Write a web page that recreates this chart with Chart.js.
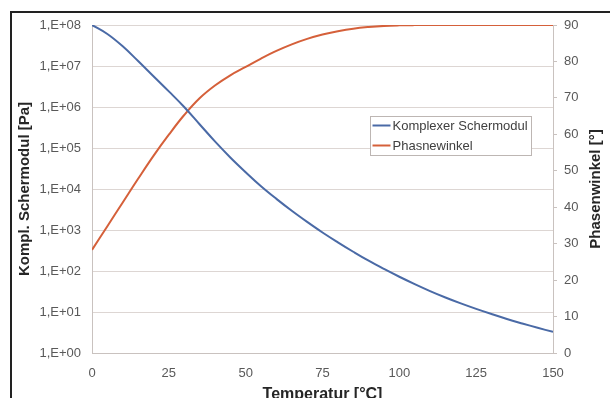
<!DOCTYPE html>
<html>
<head>
<meta charset="utf-8">
<script src="https://cdn.jsdelivr.net/npm/chart.js@4/dist/chart.umd.min.js"></script>
<style>
    html, body { margin: 0; padding: 0; background: #fff; overflow: hidden; }
    #wrap { position: relative; width: 610px; height: 398px; }
    #frame {
        position: absolute; left: 10px; top: 11px; width: 700px; height: 500px;
        border-left: 2px solid #222; border-top: 2px solid #222;
    }
    #chart { position: absolute; left: 0; top: 0; }
</style>
</head>
<body>
<div id="wrap">
    <div id="frame"></div>
    <canvas id="chart" width="610" height="398"></canvas>
</div>
<script>
// Rheology chart: complex shear modulus (log) and phase angle vs. temperature

// Data
const temperatures = [0, 5, 10, 15, 20, 25, 30, 35, 40, 45, 50, 55, 60, 65, 70, 75,
    80, 85, 90, 95, 100, 105, 110, 115, 120, 125, 130, 135, 140, 145, 150];
const schermodul = [1.0e8, 6.03e7, 3.02e7, 1.32e7, 5.62e6, 2.40e6, 1.00e6, 3.80e5,
    1.45e5, 5.89e4, 2.57e4, 1.17e4, 5.75e3, 2.95e3, 1.58e3, 871, 501, 295, 178, 112,
    72.4, 47.9, 32.4, 22.6, 16.2, 11.9, 8.91, 6.76, 5.25, 4.12, 3.27];
const phasenwinkel = [28.3, 34.8, 41.3, 47.8, 54.1, 59.9, 65.3, 69.9, 73.4, 76.2, 78.5,
    80.8, 82.9, 84.7, 86.2, 87.4, 88.3, 89.0, 89.45, 89.75, 89.9, 89.97, 90, 90, 90, 90,
    90, 90, 90, 90, 90];

// Axis ticks
const modulusTicks = [1, 10, 100, 1e3, 1e4, 1e5, 1e6, 1e7, 1e8];
const phaseTicks = [0, 10, 20, 30, 40, 50, 60, 70, 80, 90];
const tempTicks = [0, 25, 50, 75, 100, 125, 150];

const labels = {
    modulus: 'Komplexer Schermodul',
    phase: 'Phasnewinkel',
    xTitle: 'Temperatur [°C]',
    yTitle: 'Kompl. Schermodul [Pa]',
    y2Title: 'Phasenwinkel [°]'
};

const FONT = '"Liberation Sans", Arial, sans-serif';
const TICK_COLOR = '#595959';
const GRID_COLOR = '#ddd6d3';
const AXIS_COLOR = '#c9c2bf';

Chart.defaults.font.family = FONT;

function expLabel(v) {
    const e = Math.round(Math.log10(v));
    return '1,E+' + String(e).padStart(2, '0');
}

// Legend box inside the plot, plus the right title read bottom-to-top
const extras = {
    id: 'extras',
    afterDraw(chart) {
        const ctx = chart.ctx;
        const area = chart.chartArea;

        ctx.save();
        ctx.font = 'bold 15px ' + FONT;
        ctx.fillStyle = '#262626';
        ctx.textAlign = 'center';
        ctx.textBaseline = 'middle';
        ctx.translate(595.5, (area.top + area.bottom) / 2);
        ctx.rotate(-Math.PI / 2);
        ctx.fillText(labels.y2Title, 0, 0);
        ctx.restore();

        const bx = 370.5, by = 116.5, bw = 161, bh = 39;
        ctx.save();
        ctx.fillStyle = '#fff';
        ctx.fillRect(bx, by, bw, bh);
        ctx.strokeStyle = '#bdb6b3';
        ctx.lineWidth = 1;
        ctx.strokeRect(bx, by, bw, bh);
        ctx.font = '13px ' + FONT;
        ctx.textAlign = 'left';
        ctx.textBaseline = 'middle';
        chart.data.datasets.forEach((ds, i) => {
            const y = by + 9 + i * 20;
            ctx.strokeStyle = ds.borderColor;
            ctx.lineWidth = 2;
            ctx.beginPath();
            ctx.moveTo(bx + 2, y);
            ctx.lineTo(bx + 20, y);
            ctx.stroke();
            ctx.fillStyle = '#404040';
            ctx.fillText(ds.label, bx + 22, y + 0.5);
        });
        ctx.restore();
    }
};

const ctx = document.getElementById('chart').getContext('2d');
const chart = new Chart(ctx, {
    type: 'line',
    data: {
        datasets: [{
            label: labels.modulus,
            data: temperatures.map((t, i) => ({ x: t, y: schermodul[i] })),
            yAxisID: 'y',
            borderColor: '#4a6aa6',
            borderWidth: 2,
            pointRadius: 0,
            tension: 0.4
        }, {
            label: labels.phase,
            data: temperatures.map((t, i) => ({ x: t, y: phasenwinkel[i] })),
            yAxisID: 'y2',
            borderColor: '#d5603a',
            borderWidth: 2,
            pointRadius: 0,
            tension: 0.4
        }]
    },
    options: {
        responsive: false,
        animation: false,
        layout: { padding: { top: 25, left: 0, right: 0, bottom: 0 } },
        plugins: {
            legend: { display: false },
            tooltip: { enabled: false }
        },
        scales: {
            x: {
                type: 'linear',
                min: 0,
                max: 150,
                afterFit: s => { s.height = 45; },
                afterBuildTicks: s => { s.ticks = tempTicks.map(v => ({ value: v })); },
                grid: { display: false, drawTicks: false },
                border: { display: true, color: AXIS_COLOR, width: 1 },
                ticks: { color: TICK_COLOR, font: { size: 13 }, padding: 13 },
                title: {
                    display: true,
                    text: labels.xTitle,
                    color: '#262626',
                    font: { size: 16, weight: 'bold', lineHeight: 1 },
                    padding: { top: 0, bottom: -5 }
                }
            },
            y: {
                type: 'logarithmic',
                position: 'left',
                min: 1,
                max: 1e8,
                afterFit: s => { s.width = 92; },
                afterBuildTicks: s => { s.ticks = modulusTicks.map(v => ({ value: v })); },
                grid: { color: GRID_COLOR, lineWidth: 1, drawTicks: false },
                border: { display: true, color: AXIS_COLOR, width: 1 },
                ticks: {
                    color: TICK_COLOR,
                    font: { size: 13 },
                    padding: 11,
                    callback: v => expLabel(v)
                },
                title: {
                    display: true,
                    text: labels.yTitle,
                    color: '#262626',
                    font: { size: 15, weight: 'bold', lineHeight: 1.2 },
                    padding: { top: 15.5, bottom: 0 }
                }
            },
            y2: {
                type: 'linear',
                position: 'right',
                min: 0,
                max: 90,
                afterFit: s => { s.width = 57; },
                afterBuildTicks: s => { s.ticks = phaseTicks.map(v => ({ value: v })); },
                grid: {
                    drawOnChartArea: false,
                    color: AXIS_COLOR,
                    tickLength: 4
                },
                border: { display: true, color: AXIS_COLOR, width: 1 },
                ticks: { color: TICK_COLOR, font: { size: 13 }, padding: 7 }
            }
        }
    },
    plugins: [extras]
});
</script>
</body>
</html>
